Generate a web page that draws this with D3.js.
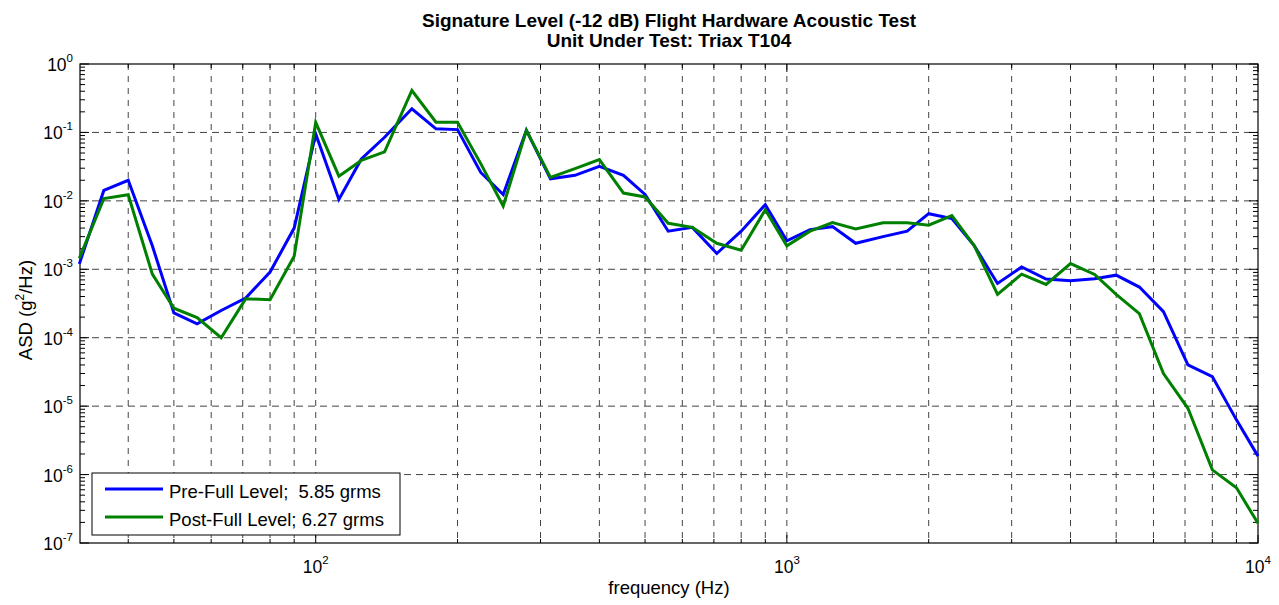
<!DOCTYPE html>
<html>
<head>
<meta charset="utf-8">
<script src="https://cdn.jsdelivr.net/npm/d3@7"></script>
<style>
  body { margin: 0; background: #fff; }
  svg { display: block; font-family: "Liberation Sans", Arial, sans-serif; }
</style>
</head>
<body>
<div id="chart"></div>
<script>
// 1/6-octave band centres (Hz)
const freq = [31.5, 35.5, 40, 45, 50, 56, 63, 71, 80, 90,
  100, 112, 125, 140, 160, 180, 200, 224, 250, 280,
  315, 355, 400, 450, 500, 560, 630, 710, 800, 900,
  1000, 1120, 1250, 1400, 1600, 1800, 2000, 2240, 2500, 2800,
  3150, 3550, 4000, 4500, 5000, 5600, 6300, 7100, 8000, 9000, 10000];

const preFull = [1.2e-3, 0.0142, 0.020, 2.2e-3, 2.3e-4, 1.6e-4, 2.5e-4, 3.8e-4, 9.1e-4, 4.0e-3,
  0.095, 0.0105, 0.041, 0.085, 0.222, 0.113, 0.11, 0.026, 0.0124, 0.107,
  0.021, 0.0236, 0.0319, 0.0236, 0.0124, 0.0036, 0.0041, 0.0017, 0.0036, 0.0088,
  0.0026, 0.0038, 0.0042, 0.0024, 0.0030, 0.0036, 0.0065, 0.0055, 0.0022, 6.2e-4,
  1.08e-3, 7.2e-4, 6.8e-4, 7.3e-4, 8.2e-4, 5.5e-4, 2.4e-4, 4.0e-5, 2.7e-5, 6.3e-6, 1.86e-6];

const postFull = [1.45e-3, 0.0108, 0.0123, 8.5e-4, 2.7e-4, 1.97e-4, 1.0e-4, 3.7e-4, 3.6e-4, 1.55e-3,
  0.14, 0.023, 0.039, 0.052, 0.41, 0.141, 0.141, 0.035, 0.0084, 0.107,
  0.022, 0.0295, 0.040, 0.013, 0.0114, 0.0047, 0.0041, 0.0024, 0.0019, 0.0074,
  0.0022, 0.0036, 0.0048, 0.0039, 0.0048, 0.0048, 0.0044, 0.0061, 0.0022, 4.3e-4,
  8.5e-4, 6.0e-4, 1.21e-3, 8.4e-4, 4.3e-4, 2.25e-4, 3.0e-5, 9.3e-6, 1.17e-6, 6.4e-7, 1.94e-7];

const seriesNames = ["Pre-Full Level;  5.85 grms", "Post-Full Level; 6.27 grms"];
const seriesColors = ["#0000ff", "#008000"];
const xDecades = [2, 3, 4];
const yDecades = [0, -1, -2, -3, -4, -5, -6, -7];

const width = 1279, height = 605;
const margin = { top: 64, right: 21, bottom: 62, left: 80 };
const w = width - margin.left - margin.right;
const h = height - margin.top - margin.bottom;

const svg = d3.select('#chart').append('svg')
  .attr('width', width)
  .attr('height', height);

const g = svg.append('g').attr('transform', `translate(${margin.left},${margin.top})`);

const x = d3.scaleLog().domain([31.6, 10000]).range([0, w]);
const y = d3.scaleLog().domain([1e-7, 1]).range([h, 0]);

// minor tick values
const xMinor = [];
for (let e = 1; e <= 3; e++) for (let m = 1; m <= 9; m++) {
  const v = m * Math.pow(10, e);
  if (v >= 31.6 && v <= 10000) xMinor.push(v);
}
xMinor.push(10000);
const yMinor = [];
for (let e = -7; e < 0; e++) for (let m = 2; m <= 9; m++) yMinor.push(m * Math.pow(10, e));

// grid: x at every minor/major, y at decades only
g.append('g').selectAll('line').data(xMinor.filter(v => v > 31.6 && v < 10000))
  .join('line')
  .attr('x1', d => x(d)).attr('x2', d => x(d))
  .attr('y1', 0).attr('y2', h)
  .attr('stroke', '#444').attr('stroke-dasharray', '6,6').attr('stroke-width', 1);

g.append('g').selectAll('line').data(yDecades.slice(1, -1))
  .join('line')
  .attr('x1', 0).attr('x2', w)
  .attr('y1', d => y(Math.pow(10, d))).attr('y2', d => y(Math.pow(10, d)))
  .attr('stroke', '#444').attr('stroke-dasharray', '7,5').attr('stroke-width', 1);

// ticks (inward, on all 4 sides)
const ticks = g.append('g').attr('stroke', '#000').attr('stroke-width', 1);
xMinor.forEach(v => {
  const len = xDecades.includes(Math.log10(v)) ? 8 : 4;
  ticks.append('line').attr('x1', x(v)).attr('x2', x(v)).attr('y1', h).attr('y2', h - len);
  ticks.append('line').attr('x1', x(v)).attr('x2', x(v)).attr('y1', 0).attr('y2', len);
});
yMinor.forEach(v => {
  ticks.append('line').attr('x1', 0).attr('x2', 5).attr('y1', y(v)).attr('y2', y(v));
  ticks.append('line').attr('x1', w).attr('x2', w - 5).attr('y1', y(v)).attr('y2', y(v));
});
yDecades.forEach(d => {
  const v = Math.pow(10, d);
  ticks.append('line').attr('x1', 0).attr('x2', 9).attr('y1', y(v)).attr('y2', y(v));
  ticks.append('line').attr('x1', w).attr('x2', w - 9).attr('y1', y(v)).attr('y2', y(v));
});

// frame
g.append('rect').attr('width', w).attr('height', h)
  .attr('fill', 'none').attr('stroke', '#000').attr('stroke-width', 1.2);

// tick labels
xDecades.forEach(d => {
  const t = g.append('text').attr('x', x(Math.pow(10, d))).attr('y', h + 30)
    .attr('text-anchor', 'middle').attr('font-size', 17.5).attr('fill', '#000');
  t.append('tspan').text('10');
  t.append('tspan').attr('dy', -9).attr('font-size', 11.5).text(d);
});
yDecades.forEach(d => {
  const t = g.append('text').attr('x', -7).attr('y', y(Math.pow(10, d)) + 7)
    .attr('text-anchor', 'end').attr('font-size', 17.5).attr('fill', '#000');
  t.append('tspan').text('10');
  t.append('tspan').attr('dy', -9).attr('font-size', 11.5).text(d);
});

// lines
const line = d3.line().x(d => x(d[0])).y(d => y(d[1]));
[preFull, postFull].forEach((vals, i) => {
  g.append('path')
    .datum(freq.map((f, k) => [f, vals[k]]))
    .attr('fill', 'none')
    .attr('stroke', seriesColors[i])
    .attr('stroke-width', 3)
    .attr('stroke-linejoin', 'miter')
    .attr('d', line);
});

// legend
const lg = g.append('g').attr('transform', `translate(12,${h - 70})`);
lg.append('rect').attr('width', 308).attr('height', 62)
  .attr('fill', '#fff').attr('stroke', '#000').attr('stroke-width', 1);
seriesNames.forEach((name, i) => {
  const yy = 16 + i * 28;
  lg.append('line').attr('x1', 13).attr('x2', 71).attr('y1', yy).attr('y2', yy)
    .attr('stroke', seriesColors[i]).attr('stroke-width', 3);
  lg.append('text').attr('x', 77).attr('y', yy + 8.5).attr('font-size', 18.5)
    .attr('xml:space', 'preserve').style('white-space', 'pre')
    .text(name);
});

// titles
svg.append('text').attr('x', margin.left + w / 2).attr('y', 27)
  .attr('text-anchor', 'middle').attr('font-size', 19).attr('font-weight', 'bold')
  .text('Signature Level (-12 dB) Flight Hardware Acoustic Test');
svg.append('text').attr('x', margin.left + w / 2).attr('y', 47)
  .attr('text-anchor', 'middle').attr('font-size', 19).attr('font-weight', 'bold')
  .text('Unit Under Test: Triax T104');

svg.append('text').attr('x', margin.left + w / 2).attr('y', 594)
  .attr('text-anchor', 'middle').attr('font-size', 18.5)
  .text('frequency (Hz)');

const yl = svg.append('text')
  .attr('transform', `translate(32,310) rotate(-90)`)
  .attr('text-anchor', 'middle').attr('font-size', 18.5);
yl.append('tspan').text('ASD (g');
yl.append('tspan').attr('dy', -8).attr('font-size', 12).text('2');
yl.append('tspan').attr('dy', 8).text('/Hz)');
</script>
</body>
</html>
